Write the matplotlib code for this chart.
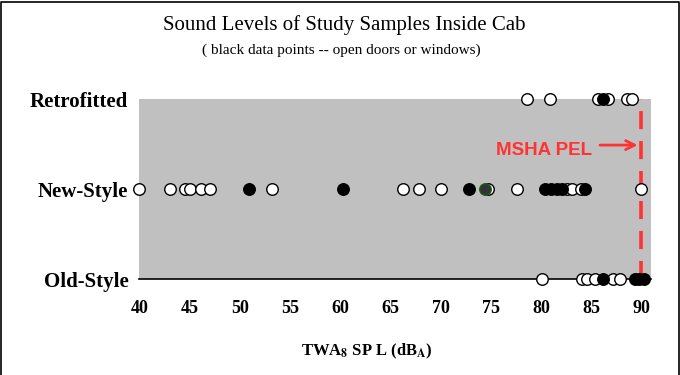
import numpy as np
import matplotlib
matplotlib.use('Agg')
import matplotlib.pyplot as plt
from matplotlib.lines import Line2D

# categories (bottom to top) and y positions
categories = ['Old-Style', 'New-Style', 'Retrofitted']

# TWA8 SPL values, closed cab (open markers) and open doors/windows (black)
old_open = [80.1, 84.1, 84.6, 85.4, 87.2, 87.9]
old_black = [86.2, 89.4, 89.8, 90.3]
new_open = [40.0, 43.0, 44.5, 45.0, 46.1, 47.0, 53.2, 66.3, 67.8, 70.0,
            74.7, 77.6, 82.6, 83.1, 84.0, 90.0]
new_black = [50.9, 60.3, 72.8, 80.4, 81.0, 81.6, 82.1, 84.4]
new_dark = [74.4]
retro_open = [78.6, 80.9, 85.7, 86.7, 88.6, 89.1]
retro_black = [86.2]

xticks = [40, 45, 50, 55, 60, 65, 70, 75, 80, 85, 90]
pel = 90

serif = 'Liberation Serif'
red = '#FF3333'

fig = plt.figure(figsize=(6.8, 3.75), dpi=100)
ax = fig.add_axes([0.2051, 0.2547, 0.7529, 0.481])
ax.set_facecolor('#C0C0C0')
ax.set_xlim(40, 91)
ax.set_ylim(1, 3)

for s in ['top', 'left', 'right']:
    ax.spines[s].set_visible(False)
ax.spines['bottom'].set_color('black')
ax.spines['bottom'].set_linewidth(1.2)

# PEL dashed line
ax.axvline(pel, color=red, lw=2.6, dashes=(5, 3.3), zorder=2)

ms = 8.3
groups = [(old_open, old_black, 1), (new_open, new_black, 2), (retro_open, retro_black, 3)]
for op, bl, y in groups:
    ax.plot(op, [y] * len(op), 'o', ms=ms, mfc='white', mec='black', mew=1,
            clip_on=False, zorder=3)
    ax.plot(bl, [y] * len(bl), 'o', ms=ms, mfc='black', mec='black', mew=1,
            clip_on=False, zorder=4)
ax.plot(new_dark, [2] * len(new_dark), 'o', ms=ms, mfc='#333333', mec='#1a5c1a',
        mew=1, clip_on=False, zorder=5)

# MSHA PEL label and arrow
ax.text(85.1, 2.435, 'MSHA PEL', color=red, fontsize=13.5, fontweight='bold',
        family='Liberation Sans', ha='right', va='center', zorder=6)
ax.annotate('', xy=(89.9, 2.49), xytext=(85.6, 2.49),
            arrowprops=dict(arrowstyle='->', color=red, lw=2, mutation_scale=16),
            zorder=6)

ax.set_yticks([1, 2, 3])
ax.set_yticklabels(categories, family=serif, fontweight='bold', fontsize=15)
ax.set_xticks(xticks)
ax.set_xticklabels([str(t) for t in xticks], family=serif, fontweight='bold', fontsize=13)
ax.tick_params(axis='both', length=0)
ax.tick_params(axis='x', pad=15)
ax.tick_params(axis='y', pad=8)

fig.text(0.54, 0.063, r'TWA$_\mathbf{8}$ SP L (dB$_\mathbf{A}$)', family=serif,
         fontweight='bold', fontsize=12, ha='center', va='center',
         math_fontfamily='stix')

fig.text(0.506, 0.933, 'Sound Levels of Study Samples Inside Cab', family=serif,
         fontsize=15, ha='center', va='center')
fig.text(0.502, 0.865, '( black data points -- open doors or windows)', family=serif,
         fontsize=11, ha='center', va='center')

# frame around figure
fig.add_artist(Line2D([0.002, 0.002, 0.998, 0.998], [0.0, 0.995, 0.995, 0.0],
                      transform=fig.transFigure, color='black', lw=1.2))

fig.savefig('out.png', dpi=100)
